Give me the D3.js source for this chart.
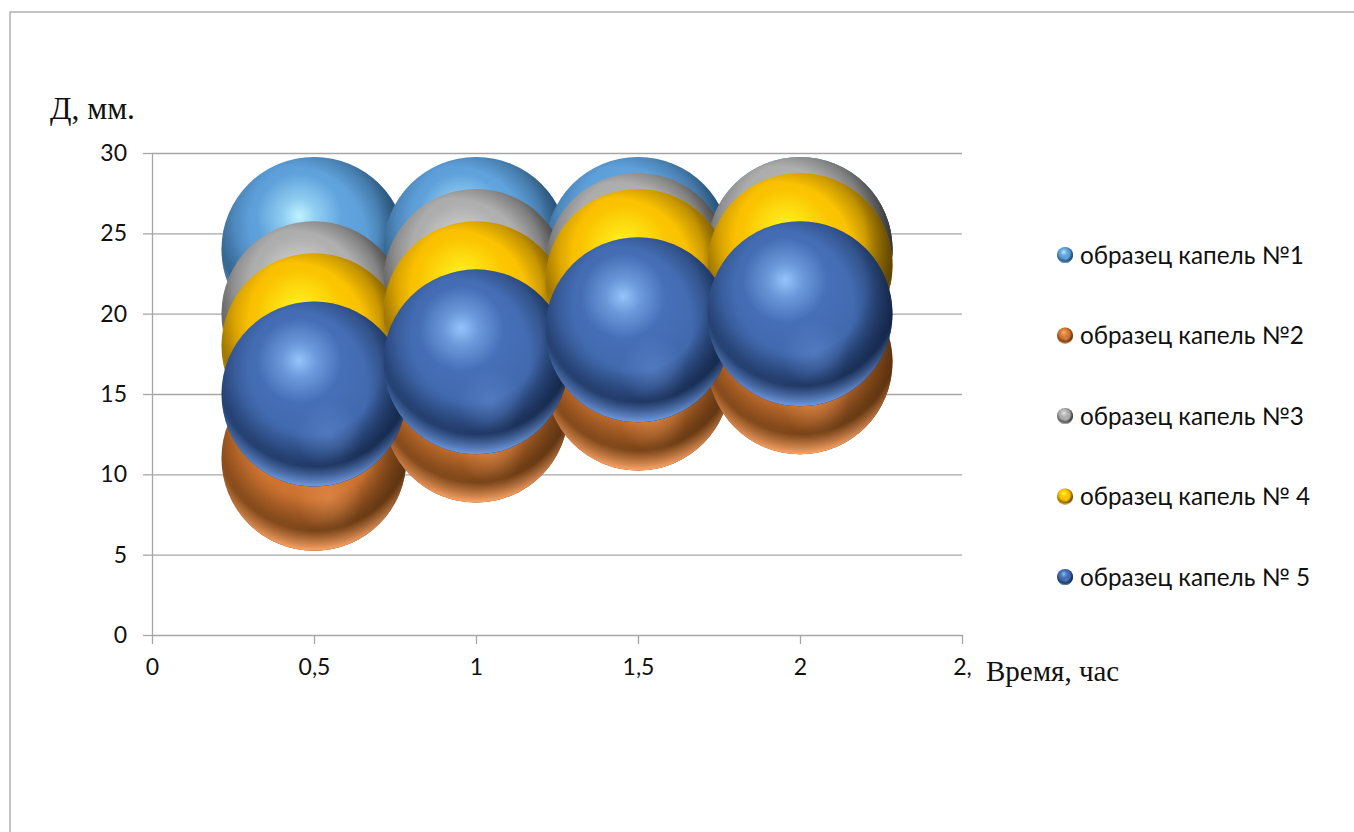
<!DOCTYPE html>
<html lang="ru">
<head>
<meta charset="utf-8">
<title>Chart</title>
<style>
html, body { margin: 0; padding: 0; background: #fff; overflow: hidden; }
.axis path, .axis line { fill: none; stroke: #a6a6a6; stroke-width: 1.3; }
.grid line { stroke: #a6a6a6; stroke-width: 1.3; }
.grid path { display: none; }
.axis text { font-family: Lato, "Noto Sans", sans-serif; font-size: 23px; fill: #111; }
.legend text { font-family: Lato, "Noto Sans", sans-serif; font-size: 24.3px; fill: #111; }
.title { font-family: "Liberation Serif", serif; fill: #111; }
</style>
</head>
<body>
<script src="https://cdn.jsdelivr.net/npm/d3@7"></script>
<script>

var w = 1354;
var h = 832;

// data
var xValues = [0.5, 1, 1.5, 2];
var seriesNames = ["образец капель №1", "образец капель №2", "образец капель №3", "образец капель № 4", "образец капель № 5"];
var series1 = [24, 24, 24, 24];
var series2 = [11, 14, 16, 17];
var series3 = [20, 22, 23, 24];
var series4 = [18, 20, 22, 23];
var series5 = [15, 17, 19, 20];
var bubbleSize = [1, 1, 1, 1];
var allSeries = [series1, series2, series3, series4, series5];
var xTicks = [0, 0.5, 1, 1.5, 2, 2.5];
var xTickLabels = ["0", "0,5", "1", "1,5", "2", "2,"];
var yTicks = [0, 5, 10, 15, 20, 25, 30];

// sphere colours: light, base, dark, edge, rim, highlight
var colors = [
  {light: "#68b0ea", base: "#5a9ad4", dark: "#2d5f8a", edge: "#173550", rim: "#7db8e8", hi: "#c4f6ff"},
  {light: "#ee8a44", base: "#c8702f", dark: "#7d4718", edge: "#4e2a0c", rim: "#ffa566", hi: "#ffb070"},
  {light: "#bcbcbc", base: "#a8a8a8", dark: "#666666", edge: "#222222", rim: "#c8c8c8", hi: "#e6e6e6"},
  {light: "#ffd400", base: "#f8bb00", dark: "#8f6a00", edge: "#4a3600", rim: "#ffd85a", hi: "#ffff30"},
  {light: "#4a76c2", base: "#4169ae", dark: "#20396a", edge: "#0f1f3c", rim: "#6f9ae0", hi: "#98c8ff"}
];

var x = d3.scaleLinear().domain([0, 2.5]).range([152, 962]);
var y = d3.scaleLinear().domain([0, 30]).range([635, 153]);
var r = d3.scaleSqrt().domain([0, 1]).range([0, 92.5]);

var svg = d3.select("body").append("svg").attr("width", w).attr("height", h);

// outer frame, its right and bottom sides are cut off by the picture
svg.append("rect").attr("x", 10).attr("y", 12).attr("width", 1400).attr("height", 900)
  .attr("fill", "#fff").attr("stroke", "#a6a6a6").attr("stroke-width", 1.3);

var defs = svg.append("defs");

function radial(id, cx, cy, rad, stops) {
  var g = defs.append("radialGradient").attr("id", id).attr("cx", cx).attr("cy", cy).attr("r", rad);
  stops.forEach(function(s) {
    g.append("stop").attr("offset", s[0]).attr("stop-color", s[1]).attr("stop-opacity", s[2] === undefined ? 1 : s[2]);
  });
}

colors.forEach(function(c, i) {
  radial("base" + i, 0.46, 0.34, 0.78, [[0, c.light], [0.5, c.base], [0.82, c.dark], [1, c.dark]]);
  radial("band" + i, 0.5, 0.36, 0.64, [[0, c.edge, 0], [0.55, c.edge, 0], [0.8, c.edge, 0.35], [0.9, c.edge, 0.2], [1, c.edge, 0]]);
  radial("side" + i, 0.38, 0.46, 0.68, [[0, c.edge, 0], [0.6, c.edge, 0], [0.85, c.edge, 0.5], [1, c.edge, 0.95]]);
  radial("rim" + i, 0.5, 0.36, 0.64, [[0, c.rim, 0], [0.83, c.rim, 0], [0.94, c.rim, 0.65], [1, c.rim, 1]]);
  radial("hi" + i, 0.42, 0.32, 0.23, [[0, c.hi, 0.95], [0.4, c.hi, 0.45], [1, c.hi, 0]]);
  radial("low" + i, 0.58, 0.72, 0.18, [[0, c.rim, 0.35], [1, c.rim, 0]]);
});

function sphere(sel, i, cx, cy, rad) {
  ["base", "band", "side", "rim", "hi", "low"].forEach(function(layer) {
    sel.append("circle").attr("cx", cx).attr("cy", cy).attr("r", rad)
      .attr("fill", "url(#" + layer + i + ")");
  });
}

// gridlines
svg.append("g").attr("class", "grid")
  .attr("transform", "translate(152,0)")
  .call(d3.axisLeft(y).tickValues(yTicks.slice(1)).tickSize(-810).tickFormat(""));

var xAxis = d3.axisBottom(x).tickValues(xTicks).tickSizeInner(9).tickSizeOuter(0)
  .tickPadding(15).tickFormat(function(d, i) { return xTickLabels[i]; });
var yAxis = d3.axisLeft(y).tickValues(yTicks).tickSizeInner(9).tickSizeOuter(0).tickPadding(16);

svg.append("g").attr("class", "axis").attr("transform", "translate(0,635)").call(xAxis);
svg.append("g").attr("class", "axis").attr("transform", "translate(152,0)").call(yAxis);

// bubbles, one series over the other
allSeries.forEach(function(vals, i) {
  var g = svg.append("g");
  vals.forEach(function(v, j) {
    sphere(g, i, x(xValues[j]), y(v), r(bubbleSize[j]));
  });
});

// legend
var legendY = d3.scalePoint().domain(seriesNames).range([255, 577]);
var legend = svg.append("g").attr("class", "legend");
seriesNames.forEach(function(name, i) {
  var g = legend.append("g");
  sphere(g, i, 1065, legendY(name), 8);
  g.append("text").attr("x", 1080).attr("y", legendY(name)).attr("dy", "0.35em").text(name);
});

svg.append("text").attr("class", "title").attr("x", 50).attr("y", 119).attr("font-size", 31.5).text("Д, мм.");
svg.append("text").attr("class", "title").attr("x", 986).attr("y", 681).attr("font-size", 29).text("Время, час");

</script>
</body>
</html>
